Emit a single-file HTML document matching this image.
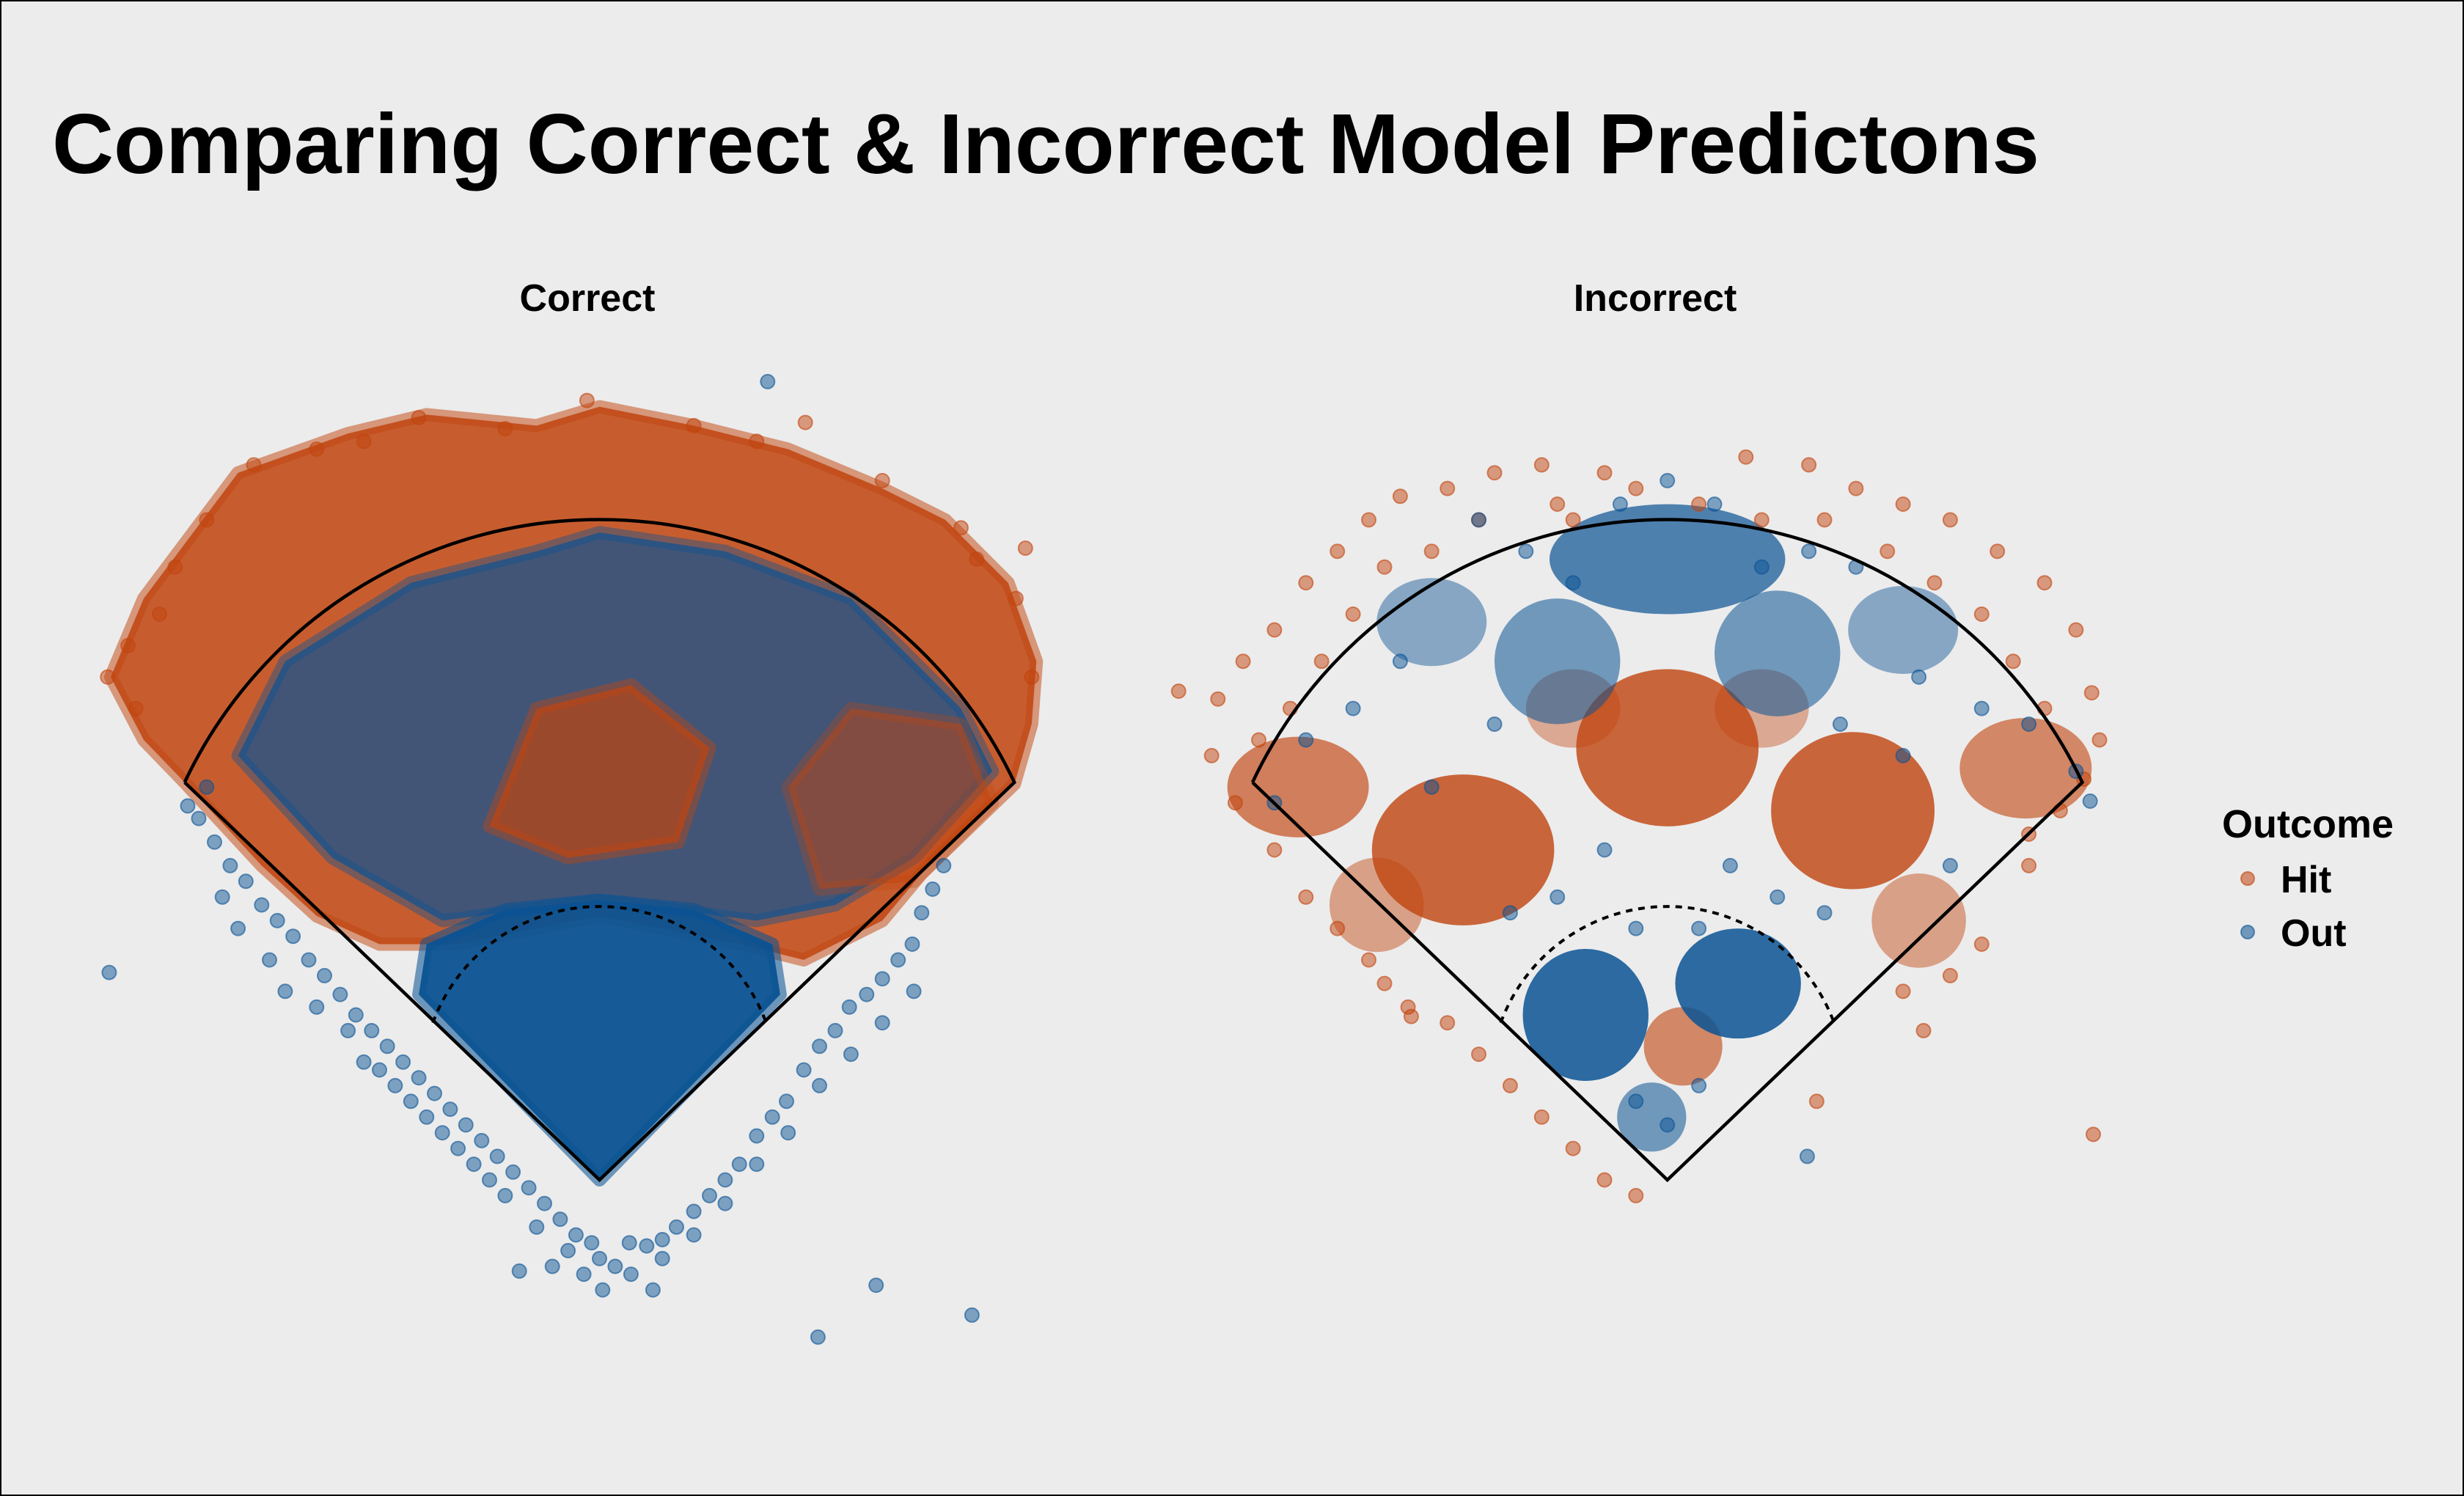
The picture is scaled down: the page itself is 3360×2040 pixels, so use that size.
<!DOCTYPE html>
<html><head><meta charset="utf-8"><style>
html,body{margin:0;padding:0;background:#ececec;}
svg{display:block;font-family:"Liberation Sans",Arial,sans-serif;}
</style></head><body>
<svg id="chart" width="3360" height="2040" viewBox="0 0 3360 2040" xmlns="http://www.w3.org/2000/svg">
<rect x="1" y="1" width="3358" height="2038" fill="#ececec" stroke="#000" stroke-width="2"/>
<text x="71" y="236" font-size="116" font-weight="bold" fill="#000" textLength="2710" lengthAdjust="spacingAndGlyphs">Comparing Correct &amp; Incorrect Model Predictons</text>
<text x="801" y="424" font-size="52" font-weight="bold" text-anchor="middle">Correct</text>
<text x="2257" y="424" font-size="52" font-weight="bold" text-anchor="middle">Incorrect</text>
<g id="panelL"></g>
<g id="panelR"></g>
<g>
<text x="3030" y="1142" font-size="54" font-weight="bold">Outcome</text>
<circle cx="3065" cy="1198" r="9" fill="#C1440E" fill-opacity="0.55" stroke="#C1440E" stroke-opacity="0.6" stroke-width="2"/>
<text x="3110" y="1217" font-size="52" font-weight="bold">Hit</text>
<circle cx="3065" cy="1271" r="9" fill="#0B5394" fill-opacity="0.55" stroke="#0B5394" stroke-opacity="0.6" stroke-width="2"/>
<text x="3110" y="1290" font-size="52" font-weight="bold">Out</text>
</g>
</svg>
<script>
// data units: horizontal offset from home plate (x) and distance toward outfield (y)
const HIT = "#C1440E", OUT = "#0B5394";
// Correct panel density regions
const leftHitOuter = [[-311,320],[-290,370],[-230,450],[-160,475],[-110,487],[-40,480],[0,492],[60,480],[120,465],[180,440],[220,420],[260,380],[278,330],[275,290],[264,252],[205,195],[180,165],[130,140],[90,150],[0,168],[-90,150],[-140,150],[-180,168],[-215,200],[-264,253],[-290,280]];
const leftOutMix = [[-230,270],[-200,330],[-120,380],[-40,400],[0,412],[80,400],[160,370],[230,300],[250,260],[200,205],[150,175],[100,165],[0,178],[-100,165],[-170,205]];
const leftHitCenter = [[-70,225],[-40,300],[20,315],[70,275],[50,215],[-20,205]];
const leftHitRight = [[120,250],[160,300],[230,290],[250,240],[200,190],[140,185]];
const leftOutInfield = [[0,0],[-115,118],[-110,150],[-60,172],[0,178],[60,172],[110,150],[115,118]];
const leftHitPts = [[-313,320],[-8,496],[131,482],[271,402],[-220,455],[-115,485],[-280,360],[-300,340],[-250,420],[-180,465],[-60,478],[60,480],[180,445],[230,415],[265,370],[275,320],[-295,300],[-270,390],[100,470],[-150,470],[240,395]];
const leftOutPts = [[-255,230],[-245,215],[-235,200],[-225,190],[-215,175],[-205,165],[-195,155],[-185,140],[-175,130],[-165,118],[-155,105],[-145,95],[-135,85],[-125,75],[-115,65],[-105,55],[-95,45],[-85,35],[-75,25],[-65,15],[-55,5],[-45,-5],[-35,-15],[-25,-25],[-15,-35],[-5,-40],[-200,120],[-180,110],[-160,95],[-140,70],[-120,50],[-100,30],[-80,10],[-60,-10],[-40,-30],[-20,-45],[0,-50],[-210,140],[-230,160],[-240,180],[-150,75],[-130,60],[-110,40],[-90,20],[-70,0],[-30,-55],[-10,-60],
 [219,200],[212,185],[205,170],[199,150],[190,140],[180,128],[170,118],[159,110],[150,95],[140,85],[130,70],[119,50],[110,40],[100,28],[89,10],[80,0],[70,-10],[60,-20],[49,-30],[40,-38],[30,-42],[19,-40],[10,-55],[20,-60],[200,120],[180,100],[160,80],[140,60],[120,30],[100,10],[80,-15],[60,-35],[40,-50],
 [107,508],[-312,132],[139,-100],[176,-67],[237,-86],[-51,-58],[2,-70],[34,-70],[-250,250],[-262,238]];
// Incorrect panel density blobs [cx, cy, rx, ry, opacity]
const rightHitBlobs = [[-130,210,58,48,0.8],[0,275,58,50,0.8],[118,235,52,50,0.8],[-235,250,45,32,0.65],[228,262,42,32,0.6],[-185,175,30,30,0.45],[160,165,30,30,0.45],[10,85,25,25,0.6],[-60,300,30,25,0.4],[60,300,30,25,0.4]];
const rightOutBlobs = [[0,395,75,35,0.7],[-70,330,40,40,0.55],[70,335,40,40,0.55],[-150,355,35,28,0.45],[150,350,35,28,0.45],[-52,105,40,42,0.85],[45,125,40,35,0.85],[-10,40,22,22,0.55]];
const rightHitPts = [[-311,311],[-286,306],[-270,330],[-250,350],[-230,380],[-210,400],[-190,420],[-170,435],[-140,440],[-110,450],[-80,455],[-70,430],[-40,450],[50,460],[90,455],[120,440],[150,430],[180,420],[210,400],[240,380],[260,350],[270,310],[275,280],[265,255],[250,235],[230,220],[-260,280],[-240,300],[-220,330],[-200,360],[-180,390],[-150,400],[-120,420],[100,420],[140,400],[170,380],[200,360],[220,330],[240,300],[-60,420],[60,420],[-20,440],[20,430],[-250,210],[-230,180],[-210,160],[-190,140],[-165,110],[-140,100],[-120,80],[-100,60],[-80,40],[-60,20],[-40,0],[-20,-10],[163,95],[180,130],[200,150],[230,200],[271,29],[-163,104],[95,50],[150,120],[-180,125],[-290,270],[-275,240]];
const rightOutPts = [[-120,420],[-90,400],[-60,380],[-30,430],[0,445],[30,430],[60,390],[90,400],[120,390],[-170,330],[-200,300],[-230,280],[160,320],[200,300],[230,290],[260,260],[-110,290],[110,290],[-40,210],[40,200],[-100,170],[100,170],[89,15],[0,35],[-20,50],[20,60],[-70,180],[70,180],[-250,240],[180,200],[-150,250],[150,270],[-20,160],[20,160],[269,241]];
// field geometry (data units)
const foulCorner = [264, 253];
const fenceArc = {cy: 129, r: 292};
const infieldArc = {cy: 61, r: 113, y0: 100};

const S = 2.143, HOME_Y = 1609;
const NS = "http://www.w3.org/2000/svg";
function xs(home, x){ return home + x*S; }
function ys(y){ return HOME_Y - y*S; }
function mk(tag, parent){ const e=document.createElementNS(NS,tag); parent.appendChild(e); return e; }
function poly(g, pts, col, op, name){
  const p = mk('polygon', g);
  
  
  p.setAttribute('points', pts.map(d=>xs(g._h,d[0]).toFixed(1)+','+ys(d[1]).toFixed(1)).join(' '));
  p.setAttribute('fill', col); p.setAttribute('fill-opacity', op);
  p.setAttribute('stroke', col); p.setAttribute('stroke-opacity', op*0.6); p.setAttribute('stroke-width', 18); p.setAttribute('stroke-linejoin','round');
}
function blob(g, b, col, name){
  const e = mk('ellipse', g);
  
  
  e.setAttribute('cx', xs(g._h,b[0])); e.setAttribute('cy', ys(b[1]));
  e.setAttribute('rx', b[2]*S); e.setAttribute('ry', b[3]*S);
  e.setAttribute('fill', col); e.setAttribute('fill-opacity', b[4]);
}
function pts(g, arr, col, name){
  arr.forEach(d=>{
    const c = mk('circle', g);
    
    
    c.setAttribute('cx', xs(g._h,d[0]).toFixed(1)); c.setAttribute('cy', ys(d[1]).toFixed(1)); c.setAttribute('r', 9.5);
    c.setAttribute('fill', col); c.setAttribute('fill-opacity', 0.5);
    c.setAttribute('stroke', col); c.setAttribute('stroke-opacity', 0.6); c.setAttribute('stroke-width', 2);
  });
}
function field(g){
  const h=g._h, cx=foulCorner[0], cy=foulCorner[1];
  const p = mk('path', g);
  
  
  p.setAttribute('d', `M${xs(h,-cx)},${ys(cy)} L${xs(h,0)},${ys(0)} L${xs(h,cx)},${ys(cy)} A${fenceArc.r*S},${fenceArc.r*S} 0 0 0 ${xs(h,-cx)},${ys(cy)}`);
  p.setAttribute('fill','none'); p.setAttribute('stroke','#000'); p.setAttribute('stroke-width',4.5);
  const ax = Math.sqrt(infieldArc.r**2 - (infieldArc.y0-infieldArc.cy)**2);
  const a = mk('path', g);
  
  
  a.setAttribute('d', `M${xs(h,-ax)},${ys(infieldArc.y0)} A${infieldArc.r*S},${infieldArc.r*S} 0 0 1 ${xs(h,ax)},${ys(infieldArc.y0)}`);
  a.setAttribute('fill','none'); a.setAttribute('stroke','#000'); a.setAttribute('stroke-width',4); a.setAttribute('stroke-dasharray','9 8');
}
const gL = document.getElementById('panelL'); gL._h = 817.5;
const gR = document.getElementById('panelR'); gR._h = 2273.7;
poly(gL, leftHitOuter, HIT, 0.85, 'hit-density-outer');
poly(gL, leftOutMix, OUT, 0.7, 'out-density-mid');
poly(gL, leftHitCenter, HIT, 0.7, 'hit-density-center');
poly(gL, leftHitRight, HIT, 0.5, 'hit-density-right');
poly(gL, leftOutInfield, OUT, 0.95, 'out-density-infield');
pts(gL, leftHitPts, HIT, 'hit-point');
pts(gL, leftOutPts, OUT, 'out-point');
field(gL);
rightHitBlobs.forEach(b=>blob(gR, b, HIT, 'hit-cluster'));
rightOutBlobs.forEach(b=>blob(gR, b, OUT, 'out-cluster'));
pts(gR, rightHitPts, HIT, 'hit-point');
pts(gR, rightOutPts, OUT, 'out-point');
field(gR);
</script>
</body></html>
